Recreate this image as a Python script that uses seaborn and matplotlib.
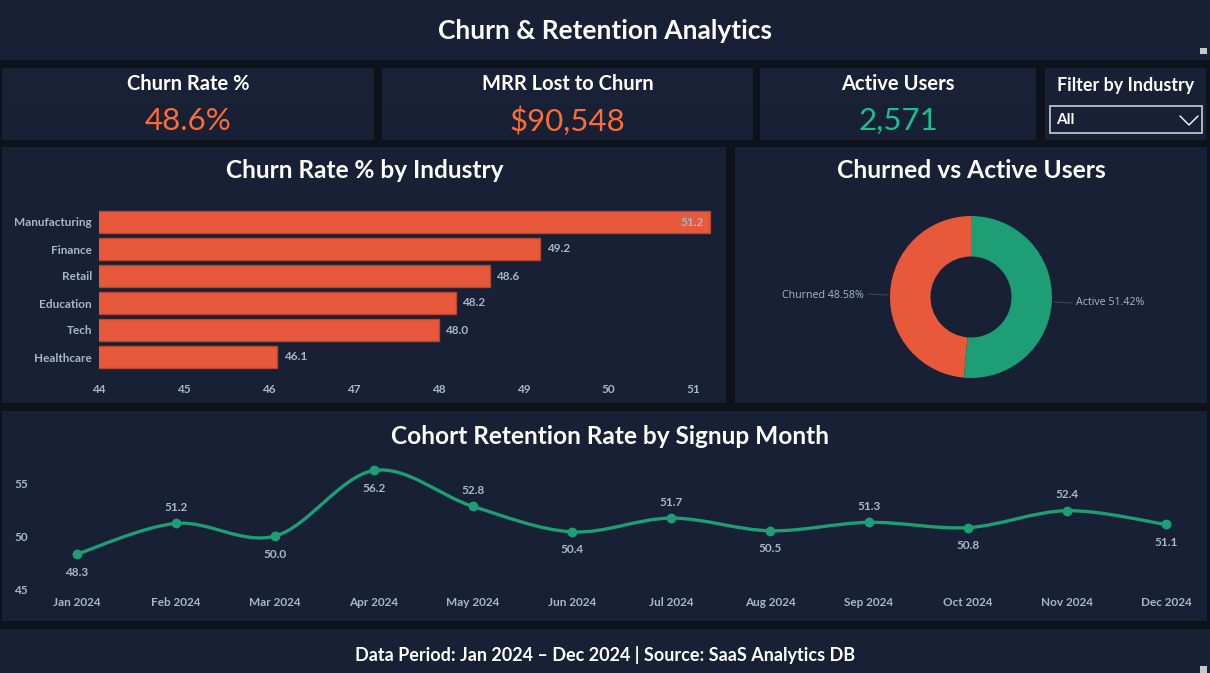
import numpy as np
import pandas as pd
import matplotlib
matplotlib.use("Agg")
import matplotlib.pyplot as plt
import seaborn as sns
from matplotlib.patches import Rectangle, PathPatch
from matplotlib.path import Path

# ---------------- data ----------------
industries = ["Manufacturing", "Finance", "Retail", "Education", "Tech", "Healthcare"]
churn_rates = [51.2, 49.2, 48.6, 48.2, 48.0, 46.1]

donut_labels = ["Active", "Churned"]
donut_values = [51.42, 48.58]

months = ["Jan 2024", "Feb 2024", "Mar 2024", "Apr 2024", "May 2024", "Jun 2024",
          "Jul 2024", "Aug 2024", "Sep 2024", "Oct 2024", "Nov 2024", "Dec 2024"]
retention = [48.3, 51.2, 50.0, 56.2, 52.8, 50.4, 51.7, 50.5, 51.3, 50.8, 52.4, 51.1]

kpi_titles = ["Churn Rate %", "MRR Lost to Churn", "Active Users"]
kpi_values = ["48.6%", "$90,548", "2,571"]

bar_xticks = [44, 45, 46, 47, 48, 49, 50, 51]
line_yticks = [45, 50, 55]

# ---------------- style ----------------
W, H = 1210, 673
PAGE = "#0e121a"
PANEL = "#172034"
CARD_TOP = "#182136"
RED = "#e8593c"
RED_EDGE = "#b8432f"
GREEN = "#1d9e75"
TICK = "#a9b6c9"
WHITE = "#ffffff"
ORANGE = "#ff6b35"
TEAL = "#1abf8f"

sns.set_theme(style="dark")
plt.rcParams["font.family"] = ["Lato", "DejaVu Sans"]

fig = plt.figure(figsize=(W / 100, H / 100), dpi=100, facecolor=PAGE)


def fx(x):
    return x / W


def fy(y):
    return 1 - y / H


def rect(x0, y0, x1, y1, color, ec=None, lw=0):
    r = Rectangle((fx(x0), fy(y1)), fx(x1 - x0), (y1 - y0) / H,
                  transform=fig.transFigure, facecolor=color,
                  edgecolor=ec if ec else "none", linewidth=lw, zorder=0)
    fig.add_artist(r)
    return r


def ftext(x, y, s, **kw):
    kw.setdefault("ha", "center")
    kw.setdefault("va", "center")
    fig.text(fx(x), fy(y), s, **kw)


# header
rect(0, 0, W, 60, PANEL)
ftext(605, 31, "Churn & Retention Analytics", color=WHITE, fontsize=19, fontweight="bold")
rect(1200, 48, 1207, 54, "#c8c8c8")

# KPI cards
cards = [(2, 374), (382, 753), (760, 1036)]
for (x0, x1), t, v, c in zip(cards, kpi_titles, kpi_values, [ORANGE, ORANGE, TEAL]):
    rect(x0, 68, x1, 140, PANEL)
    rect(x0, 68, x1, 103, CARD_TOP)
    ftext((x0 + x1) / 2, 84, t, color=WHITE, fontsize=14.5, fontweight="bold")
    ftext((x0 + x1) / 2, 121, v, color=c, fontsize=22.5)

# filter card
rect(1045, 68, 1206, 140, PANEL)
ftext(1126, 85, "Filter by Industry", color=WHITE, fontsize=12.9, fontweight="bold")
rect(1050, 106, 1202, 133, PANEL, ec="#c8ccd4", lw=1.2)
ftext(1056, 120, "All", color=WHITE, fontsize=11, fontweight="bold", ha="left")
fig.add_artist(plt.Line2D([fx(1180), fx(1189), fx(1198)], [fy(116), fy(125), fy(116)],
                          transform=fig.transFigure, color=WHITE, lw=1.0))

# chart panels
rect(2, 147, 726, 403, PANEL)
rect(735, 147, 1207, 403, PANEL)
rect(2, 411, 1207, 621, PANEL)
rect(0, 629, W, H, PANEL)
rect(1200, 666, 1207, 673, "#c8c8c8")

# ---------------- bar chart ----------------
ftext(365, 170, "Churn Rate % by Industry", color=WHITE, fontsize=17.6, fontweight="bold")
ax1 = fig.add_axes([fx(99), fy(370.5), fx(712 - 99), (370.5 - 208.5) / H])
ax1.set_facecolor("none")
df_bar = pd.DataFrame({"industry": industries, "rate": churn_rates})
sns.barplot(data=df_bar, x="rate", y="industry", ax=ax1, color=RED, orient="h",
            width=0.78, edgecolor=RED_EDGE, linewidth=1.0, saturation=1)
ax1.set_xlim(44, 51.22)
ax1.set_ylim(5.5, -0.5)
ax1.set_xticks(bar_xticks)
ax1.set_xlabel("")
ax1.set_ylabel("")
for s in ax1.spines.values():
    s.set_visible(False)
ax1.grid(False)
ax1.tick_params(axis="x", colors=TICK, labelsize=8.5, length=0, pad=10)
ax1.tick_params(axis="y", colors=TICK, labelsize=8.5, length=0, pad=5)
for lab in ax1.get_xticklabels() + ax1.get_yticklabels():
    lab.set_fontweight("bold")
    lab.set_color(TICK)
for i, v in enumerate(churn_rates):
    if v > 51:
        ax1.text(v - 0.08, i, f"{v:.1f}", ha="right", va="center", color=TICK,
                 fontsize=8.5, fontweight="bold")
    else:
        ax1.text(v + 0.08, i, f"{v:.1f}", ha="left", va="center", color=TICK,
                 fontsize=8.5, fontweight="bold")

# ---------------- donut ----------------
ftext(971, 171, "Churned vs Active Users", color=WHITE, fontsize=17.7, fontweight="bold")
r_px = 81
ax2 = fig.add_axes([fx(971 - r_px), fy(297 + r_px), fx(2 * r_px), 2 * r_px / H])
ax2.set_facecolor("none")
ax2.pie(donut_values, colors=[GREEN, RED], startangle=90, counterclock=False,
        wedgeprops=dict(width=0.5, edgecolor="none"), radius=1.0)
ax2.set_xlim(-1, 1)
ax2.set_ylim(-1, 1)
ax2.set_aspect("equal")
ax2.axis("off")
ftext(1076, 303, f"{donut_labels[0]} {donut_values[0]:.2f}%", color=TICK, fontsize=7.7, ha="left",
      family=["Open Sans", "DejaVu Sans"])
ftext(864, 295, f"{donut_labels[1]} {donut_values[1]:.2f}%", color=TICK, fontsize=7.7, ha="right",
      family=["Open Sans", "DejaVu Sans"])
fig.add_artist(plt.Line2D([fx(1054), fx(1072)], [fy(302), fy(303)],
                          transform=fig.transFigure, color="#3a4456", lw=0.8))
fig.add_artist(plt.Line2D([fx(868), fx(888)], [fy(294), fy(295)],
                          transform=fig.transFigure, color="#3a4456", lw=0.8))

# ---------------- line chart ----------------
ftext(610, 437, "Cohort Retention Rate by Signup Month", color=WHITE, fontsize=17.6, fontweight="bold")
x0p, x1p = 77, 1166
ax3 = fig.add_axes([fx(45), fy(589), fx(1195 - 45), (589 - 462) / H])
ax3.set_facecolor("none")
xs = np.arange(len(months))
unit = (x1p - x0p) / 11
ax3.set_xlim(-(x0p - 45) / unit, 11 + (1195 - x1p) / unit)
ax3.set_ylim(45, 57)

# smooth curve drawn as Catmull-Rom bezier segments through the data points
pts = np.column_stack([xs, retention]).astype(float)
verts = [tuple(pts[0])]
codes = [Path.MOVETO]
tension = 1 / 6
for i in range(len(pts) - 1):
    p0 = pts[i - 1] if i > 0 else pts[i]
    p1 = pts[i]
    p2 = pts[i + 1]
    p3 = pts[i + 2] if i + 2 < len(pts) else pts[i + 1]
    c1 = p1 + (p2 - p0) * tension
    c2 = p2 - (p3 - p1) * tension
    verts += [tuple(c1), tuple(c2), tuple(p2)]
    codes += [Path.CURVE4, Path.CURVE4, Path.CURVE4]
ax3.add_patch(PathPatch(Path(verts, codes), facecolor="none", edgecolor=GREEN, lw=2.4,
                        capstyle="round", joinstyle="round"))
df_line = pd.DataFrame({"x": xs, "rate": retention})
sns.scatterplot(data=df_line, x="x", y="rate", ax=ax3, color=GREEN, s=50,
                edgecolor=GREEN, linewidth=0, zorder=3)

label_side = ["below", "above", "below", "below", "above", "below",
              "above", "below", "above", "below", "above", "below"]
for i, (v, side) in enumerate(zip(retention, label_side)):
    off = 16 if side == "above" else -18
    ax3.annotate(f"{v:.1f}", (i, v), xytext=(0, off), textcoords="offset pixels",
                 ha="center", va="center", color=TICK, fontsize=8.5, fontweight="bold")

ax3.set_xticks(xs)
ax3.set_xticklabels(months)
ax3.set_yticks(line_yticks)
ax3.set_xlabel("")
ax3.set_ylabel("")
for s in ax3.spines.values():
    s.set_visible(False)
ax3.grid(False)
ax3.tick_params(axis="x", colors=TICK, labelsize=8.5, length=0, pad=6)
ax3.tick_params(axis="y", colors=TICK, labelsize=8.5, length=0, pad=0)
for lab in ax3.get_xticklabels() + ax3.get_yticklabels():
    lab.set_fontweight("bold")
    lab.set_color(TICK)
for lab in ax3.get_yticklabels():
    lab.set_ha("left")
    lab.set_x(-0.027)

# footer
ftext(605, 655, "Data Period: Jan 2024 \u2013 Dec 2024 | Source: SaaS Analytics DB",
      color=WHITE, fontsize=13, fontweight="bold")

fig.savefig("out.png", dpi=100, facecolor=PAGE)
